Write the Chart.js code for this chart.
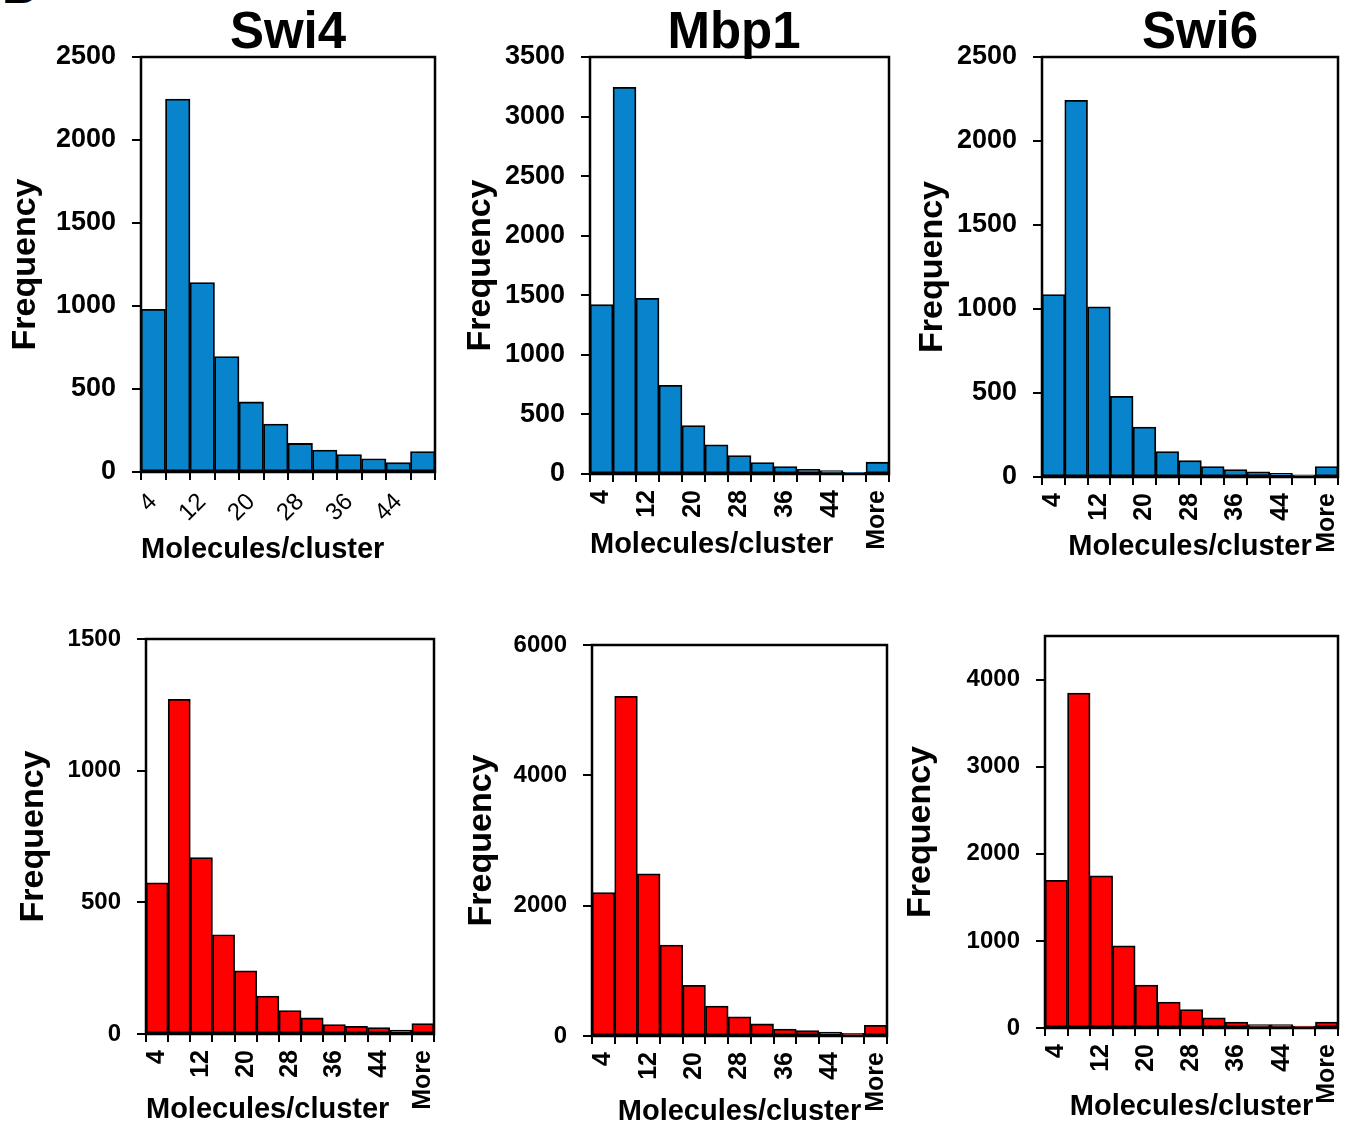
<!DOCTYPE html>
<html>
<head>
<meta charset="utf-8">
<script src="https://cdn.jsdelivr.net/npm/chart.js@4/dist/chart.umd.min.js"></script>
<style>
  body { margin: 0; background: #fff; width: 1358px; height: 1126px; overflow: hidden; position: relative; font-family: "Liberation Sans", Arial, sans-serif; }
  .panel { position: absolute; }
  .title { position: absolute; font-weight: bold; font-size: 51px; line-height: 51px; color: #000; transform: translateX(-50%); white-space: nowrap; }
</style>
</head>
<body>
<div style="position:absolute;left:2px;top:-37px;font-weight:bold;font-size:48px;line-height:48px;">B</div>
<div class="title" style="left:288px;top:5px">Swi4</div>
<div class="title" style="left:734px;top:5px">Mbp1</div>
<div class="title" style="left:1200px;top:5px">Swi6</div>
<script>
// bins (molecules per cluster)
const bins = ['4', '8', '12', '16', '20', '24', '28', '32', '36', '40', '44', '48', 'More'];
const swi4TopBins = ['4', '8', '12', '16', '20', '24', '28', '32', '36', '40', '44', 'More'];

// frequencies, top row (blue)
const swi4Top = [980, 2247, 1141, 696, 422, 289, 172, 132, 105, 80, 56, 123];
const mbp1Top = [1421, 3246, 1474, 745, 406, 245, 155, 96, 62, 40, 28, 15, 99];
const swi6Top = [1086, 2242, 1013, 480, 297, 152, 97, 62, 44, 31, 22, 13, 62];

// frequencies, bottom row (red)
const swi4Bottom = [574, 1271, 670, 377, 240, 144, 89, 61, 36, 29, 24, 15, 40];
const mbp1Bottom = [2199, 5212, 2488, 1396, 778, 458, 294, 185, 108, 82, 62, 41, 165];
const swi6Bottom = [1696, 3846, 1746, 944, 493, 297, 212, 116, 69, 39, 39, 23, 69];

// y axes: upper limit and tick labels
const yMaxes = [2500, 3500, 2500, 1500, 6000, 4500];
const yTicks = [
  [0, 500, 1000, 1500, 2000, 2500],
  [0, 500, 1000, 1500, 2000, 2500, 3000, 3500],
  [0, 500, 1000, 1500, 2000, 2500],
  [0, 500, 1000, 1500],
  [0, 2000, 4000, 6000],
  [0, 1000, 2000, 3000, 4000]
];

const FONT = '"Liberation Sans", Arial, sans-serif';
const blue = '#0784CB';
const red = '#FF0000';

const panels = [
  { bins: swi4TopBins, values: swi4Top, color: blue, box: [141, 57, 435, 472], yTitleX: 25, xGap: 78, xAlign: 'start', tickSize: 27, slanted: true },
  { bins: bins, values: mbp1Top, color: blue, box: [590, 57, 889, 474], yTitleX: 480, xGap: 71, xAlign: 'start', tickSize: 27 },
  { bins: bins, values: swi6Top, color: blue, box: [1042, 57, 1338, 477], yTitleX: 932, xGap: 70, xAlign: 'center', tickSize: 27 },
  { bins: bins, values: swi4Bottom, color: red, box: [146, 639, 434, 1034], yTitleX: 33, xGap: 76, xAlign: 'start', tickSize: 24 },
  { bins: bins, values: mbp1Bottom, color: red, box: [592, 645, 887, 1036], yTitleX: 481, xGap: 76, xAlign: 'center', tickSize: 24 },
  { bins: bins, values: swi6Bottom, color: red, box: [1045, 636, 1338, 1028], yTitleX: 920, xGap: 79, xAlign: 'center', tickSize: 24 }
];

// full frame around the plot area
const boxPlugin = {
  id: 'box',
  afterDraw(chart) {
    const a = chart.chartArea;
    const ctx = chart.ctx;
    ctx.save();
    ctx.lineWidth = 2.5;
    ctx.strokeStyle = '#000';
    ctx.strokeRect(a.left, a.top, a.right - a.left, a.bottom - a.top);
    ctx.restore();
  }
};

panels.forEach(function (p, k) {
  const L = p.box[0], T = p.box[1], R = p.box[2], B = p.box[3];
  const padTop = 45, padRight = 45;
  const yTitleSize = 34;
  const xTitleSize = 29;
  const left = Math.round(p.yTitleX - yTitleSize * 0.6);
  const yW = L - left;
  const xH = Math.round(p.xGap + xTitleSize * 0.6);

  const div = document.createElement('div');
  div.className = 'panel';
  div.style.left = left + 'px';
  div.style.top = (T - padTop) + 'px';
  div.style.width = (yW + R - L + padRight) + 'px';
  div.style.height = (padTop + B - T + xH) + 'px';
  const canvas = document.createElement('canvas');
  div.appendChild(canvas);
  document.body.appendChild(div);

  const rot = p.slanted ? 45 : 90;

  new Chart(canvas, {
    type: 'bar',
    data: {
      labels: p.bins,
      datasets: [{
        data: p.values,
        backgroundColor: p.color,
        borderColor: '#000',
        borderWidth: 1.8,
        borderSkipped: false,
        barPercentage: 1,
        categoryPercentage: 1
      }]
    },
    options: {
      responsive: true,
      maintainAspectRatio: false,
      animation: false,
      layout: { padding: { top: padTop, right: padRight, left: 0, bottom: 0 } },
      plugins: { legend: { display: false }, tooltip: { enabled: false } },
      scales: {
        x: {
          grid: { display: true, drawOnChartArea: false, offset: true, color: '#000', lineWidth: 2, tickLength: 8 },
          border: { display: true, color: '#000', width: 2 },
          ticks: {
            autoSkip: false,
            minRotation: rot,
            maxRotation: rot,
            padding: 8,
            color: '#000',
            font: { family: FONT, size: p.slanted ? 24 : 25, weight: p.slanted ? 'normal' : 'bold' },
            callback: function (v, i) { return i % 2 === 0 ? this.getLabelForValue(v) : ''; }
          },
          title: { display: true, text: 'Molecules/cluster', align: p.xAlign, padding: 0, color: '#000', font: { family: FONT, size: xTitleSize, weight: 'bold' } },
          afterFit: function (s) { s.height = xH; }
        },
        y: {
          min: 0,
          max: yMaxes[k],
          grid: { display: true, drawOnChartArea: false, color: '#000', lineWidth: 2, tickLength: 9 },
          border: { display: true, color: '#000', width: 2 },
          afterBuildTicks: function (s) { s.ticks = yTicks[k].map(function (v) { return { value: v }; }); },
          ticks: {
            autoSkip: false,
            padding: 16,
            color: '#000',
            font: { family: FONT, size: p.tickSize, weight: 'bold' },
            callback: function (v) { return String(v); }
          },
          title: { display: true, text: 'Frequency', padding: 0, color: '#000', font: { family: FONT, size: yTitleSize, weight: 'bold' } },
          afterFit: function (s) { s.width = yW; }
        }
      }
    },
    plugins: [boxPlugin]
  });
});
</script>
</body>
</html>
